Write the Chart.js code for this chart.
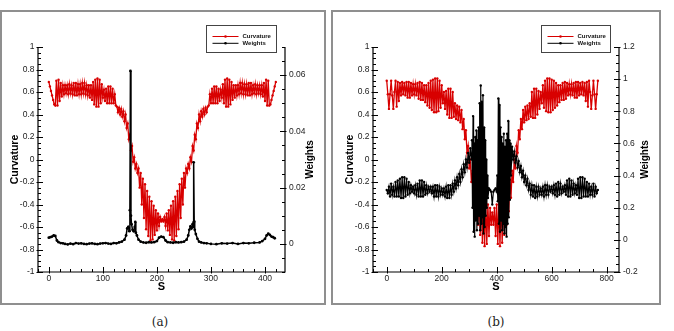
<!DOCTYPE html>
<html><head><meta charset="utf-8">
<script src="https://cdn.jsdelivr.net/npm/chart.js@4.4.1/dist/chart.umd.min.js"></script>
<style>
html,body{margin:0;padding:0;background:#fff;width:674px;height:331px;overflow:hidden;position:relative}
.frame{position:absolute;border:2px solid #8f8f8f;box-sizing:border-box}
canvas{position:absolute;top:0}
.cap{position:absolute;top:314px;font-family:"DejaVu Serif","Liberation Serif",serif;font-size:12px;line-height:16px;transform:translateX(-50%);color:#222}
</style></head><body>
<div class="frame" style="left:0;top:10px;width:326px;height:295px"></div>
<div class="frame" style="left:331px;top:10px;width:330px;height:295px"></div>
<canvas id="ca" width="330" height="300" style="left:0"></canvas>
<canvas id="cb" width="344" height="300" style="left:330px"></canvas>
<div class="cap" style="left:160px">(a)</div>
<div class="cap" style="left:496px">(b)</div>
<script>
// ---------- Panel (a) data ----------
const aCurvS = [
0,2,4,6,8,10,12,14,16,18,
20,22,24,26,28,30,32,34,36,38,
40,42,44,46,48,50,52,54,56,58,
60,62,64,66,68,70,72,74,76,78,
80,82,84,86,88,90,92,94,96,98,
100,102,104,106,108,110,112,114,116,118,
120,122,124,126,128,130,132,134,136,138,
140,142,144,146,148,150,152,154,156,158,
160,162,164,166,168,170,172,174,176,178,
180,182,184,186,188,190,192,194,196,198,
200,202,204,206,208,210,212,214,216,218,
220,222,224,226,228,230,232,234,236,238,
240,242,244,246,248,250,252,254,256,258,
260,262,264,266,268,270,272,274,276,278,
280,282,284,286,288,290,292,294,296,298,
300,302,304,306,308,310,312,314,316,318,
320,322,324,326,328,330,332,334,336,338,
340,342,344,346,348,350,352,354,356,358,
360,362,364,366,368,370,372,374,376,378,
380,382,384,386,388,390,392,394,396,398,
400,402,404,406,408,410,412,414,416,418,
420];
const aCurv = [
0.69,0.65,0.61,0.57,0.53,0.49,0.48,0.70,0.48,0.71,
0.52,0.68,0.56,0.66,0.58,0.66,0.59,0.66,0.58,0.67,
0.59,0.66,0.58,0.68,0.57,0.68,0.57,0.67,0.58,0.67,
0.58,0.68,0.59,0.68,0.58,0.66,0.57,0.66,0.55,0.66,
0.53,0.69,0.49,0.71,0.47,0.72,0.47,0.71,0.50,0.67,
0.55,0.62,0.52,0.63,0.50,0.65,0.50,0.65,0.50,0.63,
0.50,0.58,0.48,0.47,0.42,0.46,0.40,0.45,0.38,0.43,
0.34,0.40,0.28,0.32,0.18,0.22,0.08,0.12,-0.02,0.02,
-0.08,-0.04,-0.12,-0.08,-0.25,-0.12,-0.40,-0.17,-0.52,-0.22,
-0.62,-0.28,-0.68,-0.33,-0.72,-0.37,-0.71,-0.41,-0.67,-0.45,
-0.63,-0.48,-0.59,-0.51,-0.55,-0.53,-0.55,-0.51,-0.59,-0.48,
-0.63,-0.45,-0.67,-0.41,-0.71,-0.37,-0.72,-0.33,-0.68,-0.28,
-0.62,-0.22,-0.52,-0.17,-0.40,-0.12,-0.25,-0.08,-0.12,-0.04,
-0.08,0.02,-0.02,0.12,0.08,0.22,0.18,0.32,0.28,0.40,
0.34,0.43,0.38,0.45,0.40,0.46,0.42,0.47,0.48,0.58,
0.50,0.63,0.50,0.65,0.50,0.65,0.50,0.63,0.52,0.62,
0.55,0.67,0.50,0.71,0.47,0.72,0.47,0.71,0.49,0.69,
0.53,0.66,0.55,0.66,0.57,0.66,0.58,0.68,0.59,0.68,
0.58,0.67,0.58,0.67,0.57,0.68,0.57,0.68,0.58,0.66,
0.59,0.67,0.58,0.66,0.59,0.66,0.58,0.66,0.56,0.68,
0.52,0.71,0.48,0.70,0.48,0.49,0.53,0.57,0.61,0.65,
0.69];
const aWS = [
0,3,6,9,12,15,18,22,26,30,
35,40,45,50,55,60,65,70,75,80,
85,90,95,100,105,110,115,120,125,130,
135,140,143,145,147,149,150,151,152,153,
155,157,159,160,161,163,166,170,175,180,
185,190,195,200,204,208,212,216,220,225,
230,235,240,245,250,255,258,260,262,264,
266,267,268,269,270,272,275,278,282,287,
292,300,310,320,330,340,350,360,370,380,
390,395,400,403,406,409,412,415,418];
const aW = [
0.0022,0.0024,0.0026,0.0030,0.0028,0.0012,0.0006,0.0003,0.0002,0.0000,
-0.0002,0.0001,-0.0001,0.0003,0.0001,0.0002,0.0000,-0.0001,0.0001,0.0002,
0.0000,-0.0001,0.0001,0.0002,0.0003,0.0001,0.0000,0.0003,0.0002,0.0005,
0.0008,0.0015,0.0030,0.0055,0.0060,0.0045,0.0120,0.0615,0.0100,0.0070,
0.0050,0.0045,0.0060,0.0078,0.0040,0.0030,0.0015,0.0008,0.0005,0.0004,
0.0006,0.0005,0.0006,0.0010,0.0022,0.0026,0.0024,0.0012,0.0006,0.0005,
0.0004,0.0006,0.0005,0.0006,0.0008,0.0015,0.0030,0.0050,0.0062,0.0055,
0.0070,0.0060,0.0290,0.0080,0.0050,0.0035,0.0018,0.0008,0.0005,0.0003,
0.0002,0.0000,-0.0001,0.0002,0.0001,0.0003,0.0000,0.0003,0.0002,0.0004,
0.0005,0.0010,0.0018,0.0030,0.0036,0.0032,0.0026,0.0024,0.0020];

// ---------- Panel (b) data ----------
const bCurvS = [
0,4,8,12,16,20,24,28,32,36,
40,44,48,52,56,60,64,68,72,76,
80,84,88,92,96,100,104,108,112,116,
120,124,128,132,136,140,144,148,152,156,
160,164,168,172,176,180,184,188,192,196,
200,204,208,212,216,220,224,228,232,236,
240,244,248,252,256,260,264,268,272,276,
280,284,288,292,296,300,304,308,312,316,
320,324,328,332,336,340,344,348,352,356,
360,364,368,372,376,380,384,388,392,396,
400,404,408,412,416,420,424,428,432,436,
440,444,448,452,456,460,464,468,472,476,
480,484,488,492,496,500,504,508,512,516,
520,524,528,532,536,540,544,548,552,556,
560,564,568,572,576,580,584,588,592,596,
600,604,608,612,616,620,624,628,632,636,
640,644,648,652,656,660,664,668,672,676,
680,684,688,692,696,700,704,708,712,716,
720,724,728,732,736,740,744,748,752,756,
760,764,768];
const bCurv = [
0.70,0.58,0.45,0.58,0.70,0.57,0.45,0.60,0.70,0.47,
0.69,0.52,0.68,0.57,0.69,0.58,0.68,0.57,0.69,0.55,
0.69,0.55,0.68,0.57,0.67,0.58,0.67,0.57,0.68,0.54,
0.69,0.53,0.68,0.53,0.66,0.51,0.66,0.48,0.68,0.46,
0.70,0.44,0.71,0.42,0.72,0.42,0.72,0.43,0.70,0.46,
0.66,0.50,0.60,0.45,0.61,0.40,0.63,0.37,0.63,0.37,
0.60,0.38,0.50,0.36,0.48,0.35,0.47,0.33,0.44,0.27,
0.36,0.18,0.26,0.06,0.12,-0.08,0.00,-0.20,-0.10,-0.34,
-0.18,-0.46,-0.24,-0.58,-0.28,-0.67,-0.31,-0.74,-0.34,-0.77,
-0.37,-0.75,-0.40,-0.68,-0.43,-0.58,-0.47,-0.58,-0.43,-0.68,
-0.40,-0.75,-0.37,-0.77,-0.34,-0.74,-0.31,-0.67,-0.28,-0.58,
-0.24,-0.46,-0.18,-0.34,-0.10,-0.20,0.00,-0.08,0.12,0.06,
0.26,0.18,0.36,0.27,0.44,0.33,0.47,0.35,0.48,0.36,
0.50,0.38,0.60,0.37,0.63,0.37,0.63,0.40,0.61,0.45,
0.60,0.50,0.66,0.46,0.70,0.43,0.72,0.42,0.72,0.42,
0.71,0.44,0.70,0.46,0.68,0.48,0.66,0.51,0.66,0.53,
0.68,0.53,0.69,0.54,0.68,0.57,0.67,0.58,0.67,0.57,
0.68,0.55,0.69,0.55,0.69,0.57,0.68,0.58,0.69,0.57,
0.68,0.52,0.69,0.47,0.70,0.60,0.45,0.57,0.70,0.58,
0.45,0.58,0.70];
const bWS = [
0,4,8,12,16,20,24,28,32,36,
40,44,48,52,56,60,64,68,72,76,
80,84,88,92,96,100,104,108,112,116,
120,124,128,132,136,140,144,148,152,156,
160,164,168,172,176,180,184,188,192,196,
200,204,208,212,216,220,224,228,232,236,
240,244,248,252,256,260,264,268,272,276,
280,284,288,292,296,300,304,308,
310,312,314,316,318,320,322,324,326,328,
330,332,334,336,338,340,342,344,346,348,
350,352,354,356,358,360,362,364,366,368,
372,376,380,384,388,392,396,400,
402,404,406,408,410,412,414,416,418,420,
422,424,426,428,430,432,434,436,438,440,
442,444,446,448,450,452,
456,460,464,468,472,476,480,484,488,492,
496,500,504,508,512,516,520,524,528,532,
536,540,544,548,552,556,560,564,568,572,
576,580,584,588,592,596,600,604,608,612,
616,620,624,628,632,636,640,644,648,652,
656,660,664,668,672,676,680,684,688,692,
696,700,704,708,712,716,720,724,728,732,
736,740,744,748,752,756,760,764,768];
const bW = [
0.31,0.29,0.33,0.27,0.35,0.28,0.33,0.27,0.36,0.27,
0.37,0.27,0.38,0.26,0.39,0.26,0.39,0.27,0.38,0.28,
0.36,0.29,0.34,0.30,0.33,0.29,0.34,0.28,0.35,0.27,
0.37,0.27,0.37,0.27,0.36,0.28,0.34,0.29,0.33,0.30,
0.33,0.29,0.33,0.27,0.34,0.27,0.34,0.27,0.33,0.28,
0.32,0.28,0.32,0.27,0.33,0.26,0.34,0.26,0.34,0.28,
0.35,0.30,0.37,0.32,0.39,0.34,0.41,0.36,0.44,0.39,
0.47,0.42,0.50,0.45,0.54,0.48,0.57,0.50,
0.62,0.20,0.77,0.05,0.60,0.02,0.64,0.12,0.68,0.06,
0.62,0.10,0.70,0.15,0.85,0.06,0.96,0.10,0.86,0.14,
0.90,0.04,0.70,0.08,0.62,0.15,0.50,0.20,0.40,0.26,
0.32,0.31,0.30,0.22,0.30,0.31,0.32,0.30,
0.40,0.24,0.88,0.10,0.84,0.05,0.70,0.12,0.64,0.06,
0.60,0.10,0.66,0.04,0.58,0.08,0.62,0.02,0.66,0.10,
0.74,0.14,0.62,0.25,0.60,0.40,
0.58,0.50,0.55,0.48,0.52,0.45,0.49,0.42,0.46,0.39,
0.43,0.36,0.40,0.34,0.38,0.31,0.35,0.28,0.34,0.27,
0.34,0.26,0.33,0.27,0.33,0.28,0.32,0.28,0.33,0.27,
0.34,0.28,0.34,0.28,0.33,0.30,0.33,0.29,0.34,0.28,
0.35,0.27,0.36,0.28,0.35,0.29,0.33,0.30,0.34,0.28,
0.37,0.27,0.38,0.27,0.37,0.28,0.35,0.29,0.34,0.28,
0.38,0.26,0.39,0.26,0.39,0.27,0.38,0.27,0.36,0.27,
0.35,0.28,0.33,0.28,0.35,0.27,0.33,0.29,0.31];

// ---------- Tick labels ----------
const curvTicks = [-1,-0.8,-0.6,-0.4,-0.2,0,0.2,0.4,0.6,0.8,1];
const aSTicks = [0,100,200,300,400];
const aWTicks = [0,0.02,0.04,0.06];
const bSTicks = [0,200,400,600,800];
const bWTicks = [-0.2,0,0.2,0.4,0.6,0.8,1,1.2];

const RED = '#d80000';
const FONT = '"Liberation Sans", Arial, Helvetica, sans-serif';

function tecplotAxes(o){
  return {
    id:'tecplotAxes',
    afterDraw(chart){
      const ctx = chart.ctx, ca = chart.chartArea;
      const sx = chart.scales.x, sy = chart.scales.y, sy2 = chart.scales.y2;
      ctx.save();
      ctx.strokeStyle = '#000';
      ctx.lineWidth = 1.2;
      ctx.beginPath();
      ctx.moveTo(ca.left, ca.top); ctx.lineTo(ca.left, ca.bottom);
      ctx.lineTo(ca.right, ca.bottom); ctx.lineTo(ca.right, ca.top);
      ctx.stroke();
      ctx.lineWidth = 1;
      function ticks(scale, majors, nDiv, side){
        const step = (majors[1]-majors[0])/nDiv;
        const k0 = Math.ceil((scale.min - majors[0])/step - 1e-6);
        const k1 = Math.floor((scale.max - majors[0])/step + 1e-6);
        for(let k=k0;k<=k1;k++){
          const v = majors[0] + k*step;
          const major = ((k % nDiv) + nDiv) % nDiv === 0;
          const inL = major ? 5 : 3, outL = major ? 1.5 : 0;
          const p = Math.round(scale.getPixelForValue(v)) + 0.5;
          ctx.beginPath();
          if(side==='left'){ctx.moveTo(ca.left-outL,p);ctx.lineTo(ca.left+inL,p);}
          else if(side==='right'){ctx.moveTo(ca.right+outL,p);ctx.lineTo(ca.right-inL,p);}
          else {ctx.moveTo(p,ca.bottom+outL);ctx.lineTo(p,ca.bottom-inL);}
          ctx.stroke();
        }
      }
      ticks(sy, curvTicks, 4, 'left');
      ticks(sy2, o.wTicks, 4, 'right');
      ticks(sx, o.sTicks, o.xDiv, 'bottom');
      ctx.fillStyle = '#000';
      ctx.textAlign = 'center'; ctx.textBaseline = 'middle';
      ctx.font = 'bold 10.5px ' + FONT;
      const midY = (ca.top + ca.bottom)/2;
      ctx.save(); ctx.translate(o.yTitleX, midY); ctx.rotate(-Math.PI/2);
      ctx.fillText(chart.data.datasets[0].label, 0, 0); ctx.restore();
      ctx.font = 'bold 10px ' + FONT;
      ctx.save(); ctx.translate(o.y2TitleX, midY); ctx.rotate(-Math.PI/2);
      ctx.fillText(chart.data.datasets[1].label, 0, 0); ctx.restore();
      ctx.font = 'bold 11px ' + FONT;
      ctx.fillText('S', (ca.left+ca.right)/2, o.xTitleY);
      const L = o.legend;
      ctx.strokeStyle = '#444'; ctx.lineWidth = 1;
      ctx.strokeRect(L.x+0.5, L.y+0.5, L.w, L.h);
      ctx.font = 'bold 6px ' + FONT;
      ctx.textAlign = 'left';
      chart.data.datasets.forEach((ds, i) => {
        const yy = L.y + 11.5 + i*6.8;
        ctx.strokeStyle = ds.borderColor; ctx.lineWidth = 1;
        ctx.beginPath(); ctx.moveTo(L.x+6.5, yy); ctx.lineTo(L.x+32.5, yy); ctx.stroke();
        ctx.fillStyle = ds.borderColor;
        ctx.beginPath(); ctx.arc(L.x+19.5, yy, 1.3, 0, Math.PI*2); ctx.fill();
        ctx.fillStyle = '#111';
        ctx.fillText(ds.label, L.x+36.5, yy+0.3);
      });
      ctx.restore();
    }
  };
}

function makeChart(id, o){
  const fmt = v => String(+Number(v).toFixed(4));
  return new Chart(document.getElementById(id), {
    type:'line',
    data:{datasets:[
      {label:'Curvature', data:o.cS.map((s,i)=>({x:s,y:o.c[i]})), yAxisID:'y',
       borderColor:RED, backgroundColor:RED, borderWidth:1.3, pointRadius:1.2,
       pointBorderWidth:0, pointBackgroundColor:RED, tension:0, order:1},
      {label:'Weights', data:o.wS.map((s,i)=>({x:s,y:o.w[i]})), yAxisID:'y2',
       borderColor:'#000', backgroundColor:'#000', borderWidth:o.wLine, pointRadius:o.wPt,
       pointBorderWidth:0, pointBackgroundColor:'#000', tension:0, order:0}
    ]},
    options:{
      responsive:false, animation:false, devicePixelRatio:1, events:[],
      layout:{padding:{top:47,left:0,right:0,bottom:0}},
      plugins:{legend:{display:false}, tooltip:{enabled:false}},
      scales:{
        x:{type:'linear', position:'bottom', min:o.xMin, max:o.xMax,
           grid:{display:false, drawTicks:false}, border:{display:false},
           afterBuildTicks:s=>{s.ticks=o.sTicks.map(v=>({value:v}));},
           afterFit:s=>{s.height=o.xH;},
           ticks:{autoSkip:false, maxRotation:0, padding:2, color:'#222',
                  font:{family:FONT,size:8.5}, callback:fmt}},
        y:{type:'linear', position:'left', min:-1, max:1,
           grid:{display:false, drawTicks:false}, border:{display:false},
           afterBuildTicks:s=>{s.ticks=curvTicks.map(v=>({value:v}));},
           afterFit:s=>{s.width=o.yW;},
           ticks:{autoSkip:false, padding:3.5, color:'#222',
                  font:{family:FONT,size:8.5}, callback:fmt}},
        y2:{type:'linear', position:'right', min:o.wMin, max:o.wMax,
           grid:{display:false, drawTicks:false}, border:{display:false},
           afterBuildTicks:s=>{s.ticks=o.wTicks.map(v=>({value:v}));},
           afterFit:s=>{s.width=o.y2W;},
           ticks:{autoSkip:false, padding:4, color:'#222',
                  font:{family:FONT,size:8.5}, callback:fmt}}
      }
    },
    plugins:[tecplotAxes(o)]
  });
}

makeChart('ca', {cS:aCurvS, c:aCurv, wS:aWS, w:aW, xMin:-20, xMax:437, wMin:-0.01, wMax:0.07,
  sTicks:aSTicks, wTicks:aWTicks, xDiv:5, xH:28, yW:38, y2W:45, wLine:1.5, wPt:1.4,
  yTitleX:15, y2TitleX:310, xTitleY:287, legend:{x:206,y:25,w:70,h:27}});
makeChart('cb', {cS:bCurvS, c:bCurv, wS:bWS, w:bW, xMin:-50, xMax:845, wMin:-0.2, wMax:1.2,
  sTicks:bSTicks, wTicks:bWTicks, xDiv:4, xH:28, yW:43, y2W:55, wLine:1.2, wPt:1.2,
  yTitleX:20, y2TitleX:315, xTitleY:287, legend:{x:211,y:25,w:69,h:27}});
</script>
</body></html>
